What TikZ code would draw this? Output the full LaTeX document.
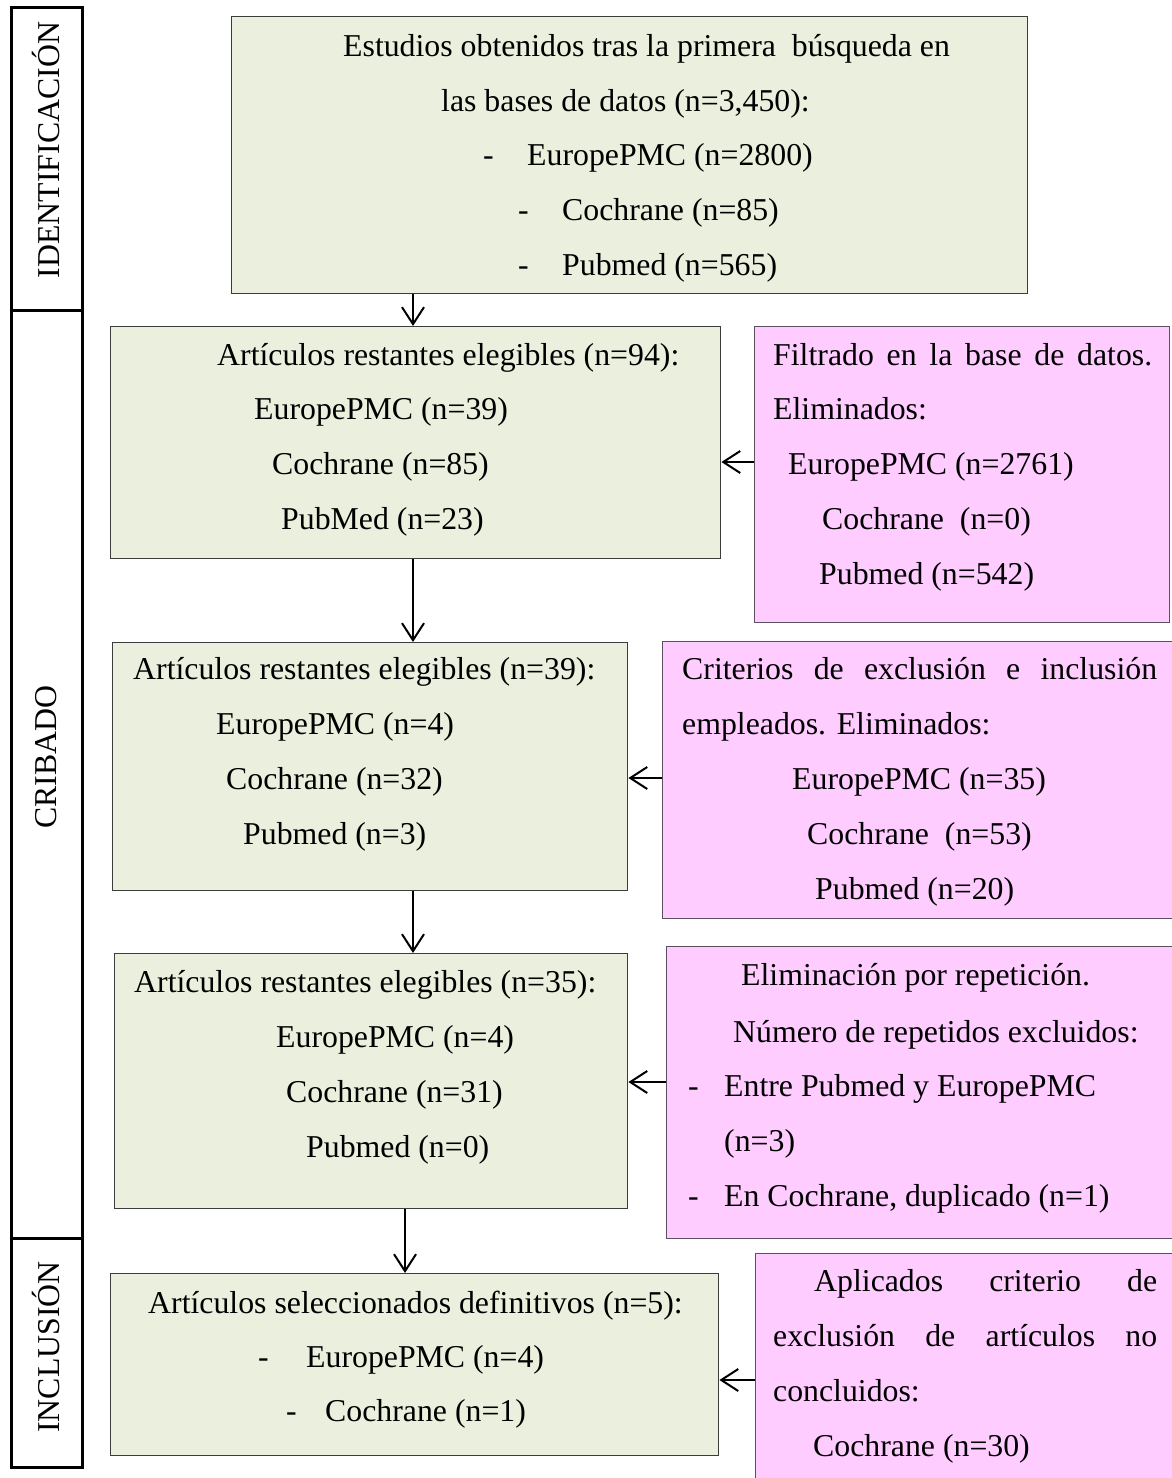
\documentclass[tikz,border=0pt]{standalone}
\usepackage{fontspec}
\setmainfont{Liberation Serif}
\usetikzlibrary{arrows.meta}
\definecolor{gfill}{RGB}{235,240,222}
\definecolor{pfill}{RGB}{255,204,255}
\definecolor{gline}{RGB}{60,60,60}
\definecolor{pline}{RGB}{90,80,95}
\newcommand{\fsz}{\fontsize{31.8}{54.8}\selectfont}
\begin{document}
\begin{tikzpicture}[x=1pt,y=-1pt,
  gbox/.style={draw=gline,fill=gfill,line width=1.4pt,anchor=north west,inner sep=0pt},
  pbox/.style={draw=pline,fill=pfill,line width=1.4pt,anchor=north west,inner sep=0pt},
  lbox/.style={draw=black,line width=2.6pt,anchor=north west,inner sep=0pt,minimum width=71pt},
  txt/.style={anchor=base west,inner sep=0pt,font=\fsz},
  rtxt/.style={rotate=90,inner sep=0pt,font=\fsz},
  conn/.style={line width=2pt,-{Straight Barb[length=17pt,width=22pt,line width=2pt]}}]
\clip (0,0) rectangle (1172,1478);
\fill[white] (0,0) rectangle (1172,1478);

% left stage column
\node[lbox,minimum height=303pt] (lab1) at (10,6) {};
\node[lbox,minimum height=928pt] (lab2) at (10,309) {};
\node[lbox,minimum height=229pt] (lab3) at (10,1237) {};
\node[rtxt] (lt1) at (46,150) {IDENTIFICACIÓN};
\node[rtxt] (lt2) at (46,757) {CRIBADO};
\node[rtxt] (lt3) at (46,1347) {INCLUSIÓN};

% boxes
\node[gbox,minimum width=796pt,minimum height=277pt] (b1) at (231,16) {};
\node[gbox,minimum width=610pt,minimum height=232pt] (b2) at (110,326) {};
\node[pbox,minimum width=415pt,minimum height=296pt] (p2) at (754,326) {};
\node[gbox,minimum width=515pt,minimum height=248pt] (b3) at (112,642) {};
\node[pbox,minimum width=515pt,minimum height=277pt] (p3) at (662,641) {};
\node[gbox,minimum width=513pt,minimum height=255pt] (b4) at (114,953) {};
\node[pbox,minimum width=510pt,minimum height=292pt] (p4) at (666,946) {};
\node[gbox,minimum width=608pt,minimum height=182pt] (b5) at (110,1273) {};
\node[pbox,minimum width=420pt,minimum height=240pt] (p5) at (755,1253) {};

% box 1 text
\node[txt] (t1a) at (343,56) {Estudios obtenidos tras la primera\ \ búsqueda en};
\node[txt] (t1b) at (441,111) {las bases de datos (n=3,450):};
\node[txt] (t1c) at (483,165) {-};
\node[txt] (t1d) at (527,165) {EuropePMC (n=2800)};
\node[txt] (t1e) at (518,220) {-};
\node[txt] (t1f) at (562,220) {Cochrane (n=85)};
\node[txt] (t1g) at (518,275) {-};
\node[txt] (t1h) at (562,275) {Pubmed (n=565)};

% box 2 text
\node[txt] (t2a) at (217,365) {Artículos restantes elegibles (n=94):};
\node[txt] (t2b) at (254,419) {EuropePMC (n=39)};
\node[txt] (t2c) at (272,474) {Cochrane (n=85)};
\node[txt] (t2d) at (281,529) {PubMed (n=23)};

% pink 2 text
\node[txt] (q2a) at (773,365) {\makebox[379pt][s]{Filtrado en la base de datos.}};
\node[txt] (q2b) at (773,419) {Eliminados:};
\node[txt] (q2c) at (788,474) {EuropePMC (n=2761)};
\node[txt] (q2d) at (822,529) {Cochrane\ \ (n=0)};
\node[txt] (q2e) at (819,584) {Pubmed (n=542)};

% box 3 text
\node[txt] (t3a) at (133,679) {Artículos restantes elegibles (n=39):};
\node[txt] (t3b) at (216,734) {EuropePMC (n=4)};
\node[txt] (t3c) at (226,789) {Cochrane (n=32)};
\node[txt] (t3d) at (243,844) {Pubmed (n=3)};

% pink 3 text
\node[txt] (q3a) at (682,679) {\makebox[475pt][s]{Criterios de exclusión e inclusión}};
\node[txt] (q3b) at (682,734) {empleados. Eliminados:};
\node[txt] (q3c) at (792,789) {EuropePMC (n=35)};
\node[txt] (q3d) at (807,844) {Cochrane\ \ (n=53)};
\node[txt] (q3e) at (815,899) {Pubmed (n=20)};

% box 4 text
\node[txt] (t4a) at (134,992) {Artículos restantes elegibles (n=35):};
\node[txt] (t4b) at (276,1047) {EuropePMC (n=4)};
\node[txt] (t4c) at (286,1102) {Cochrane (n=31)};
\node[txt] (t4d) at (306,1157) {Pubmed (n=0)};

% pink 4 text
\node[txt] (q4a) at (741,985) {Eliminación por repetición.};
\node[txt] (q4b) at (733,1042) {Número de repetidos excluidos:};
\node[txt] (q4c) at (688,1096) {-};
\node[txt] (q4d) at (724,1096) {Entre Pubmed y EuropePMC};
\node[txt] (q4e) at (724,1151) {(n=3)};
\node[txt] (q4f) at (688,1206) {-};
\node[txt] (q4g) at (724,1206) {En Cochrane, duplicado (n=1)};

% box 5 text
\node[txt] (t5a) at (148,1313) {Artículos seleccionados definitivos (n=5):};
\node[txt] (t5b) at (258,1367) {-};
\node[txt] (t5c) at (306,1367) {EuropePMC (n=4)};
\node[txt] (t5d) at (286,1421) {-};
\node[txt] (t5e) at (325,1421) {Cochrane (n=1)};

% pink 5 text
\node[txt] (q5a) at (814,1291) {\makebox[343pt][s]{Aplicados criterio de}};
\node[txt] (q5b) at (773,1346) {\makebox[384pt][s]{exclusión de artículos no}};
\node[txt] (q5c) at (773,1401) {concluidos:};
\node[txt] (q5d) at (813,1456) {Cochrane (n=30)};

% connector guides
\coordinate (vx) at (413,0);
\coordinate (vx5) at (405,0);
\coordinate (h2) at (0,462);
\coordinate (h3) at (0,778);
\coordinate (h4) at (0,1082);
\coordinate (h5) at (0,1380);

\draw[conn] (b1.south -| vx) -- (b2.north -| vx);
\draw[conn] (b2.south -| vx) -- (b3.north -| vx);
\draw[conn] (b3.south -| vx) -- (b4.north -| vx);
\draw[conn] (b4.south -| vx5) -- (b5.north -| vx5);
\draw[conn] (p2.west |- h2) -- (b2.east |- h2);
\draw[conn] (p3.west |- h3) -- (b3.east |- h3);
\draw[conn] (p4.west |- h4) -- (b4.east |- h4);
\draw[conn] (p5.west |- h5) -- (b5.east |- h5);
\end{tikzpicture}
\end{document}
